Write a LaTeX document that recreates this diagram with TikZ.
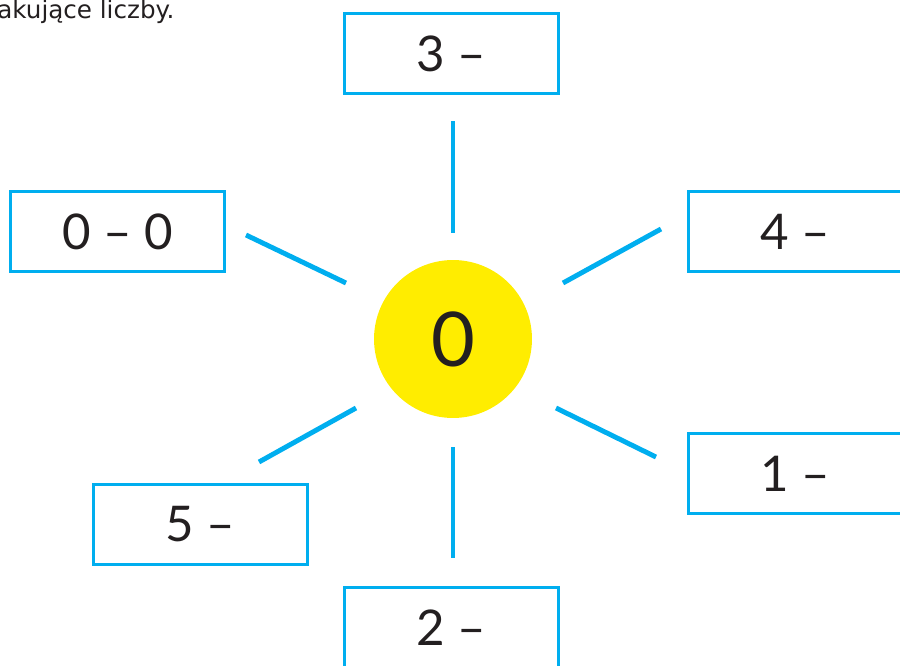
\documentclass[tikz,border=0pt]{standalone}
\usepackage{fontspec}
\setmainfont{Lato}
\newfontfamily\hintfont{DejaVu Sans}
\definecolor{rayblue}{HTML}{00AEEF}
\definecolor{sunyellow}{HTML}{FFED00}
\definecolor{ink}{HTML}{231F20}

\begin{document}
\begin{tikzpicture}[
        x=0.02cm, y=-0.02cm,
        numbox/.style={draw=rayblue, line width=1.7pt, fill=white, minimum width=4.28cm,
          minimum height=1.6cm, inner sep=0pt, text=ink, font=\fontsize{28}{30}\selectfont},
        ray/.style={draw=rayblue, line width=2.8pt},
        ]
        \useasboundingbox (0,0) rectangle (900,666);
        \node[anchor=base west, inner sep=0pt, text=ink,
          font=\hintfont\fontsize{14}{16}\selectfont] (hint) at (-3,18) {akujące liczby.};

        \node[circle, fill=sunyellow, minimum size=3.16cm, inner sep=0pt, text=ink,
          font=\fontsize{43}{45}\selectfont] (sun) at (453,339) {0};

        \foreach \n/\x/\y/\txt in {b3/451.5/53.5/{3 –},b00/117.5/231.5/{0 – 0},
          b4/795/231.5/{4 –},b1/795/473.5/{1 –},b5/200.5/524.5/{5 –},b2/451.5/627.5/{2 –}} {
          \node[numbox] (\n) at (\x,\y) {\txt};
        }

        \foreach \i/\xa/\ya/\xb/\yb in {t/453/121/453/233, ul/246/235/346/283, ur/563/283/661/229,
          ll/259/462/356/408, lr/556/408/656/457, bo/453/447/453/558} {
          \coordinate (\i a) at (\xa,\ya);
          \coordinate (\i b) at (\xb,\yb);
          \draw[ray] (\i a) -- (\i b);
        }
      \end{tikzpicture}
\end{document}
